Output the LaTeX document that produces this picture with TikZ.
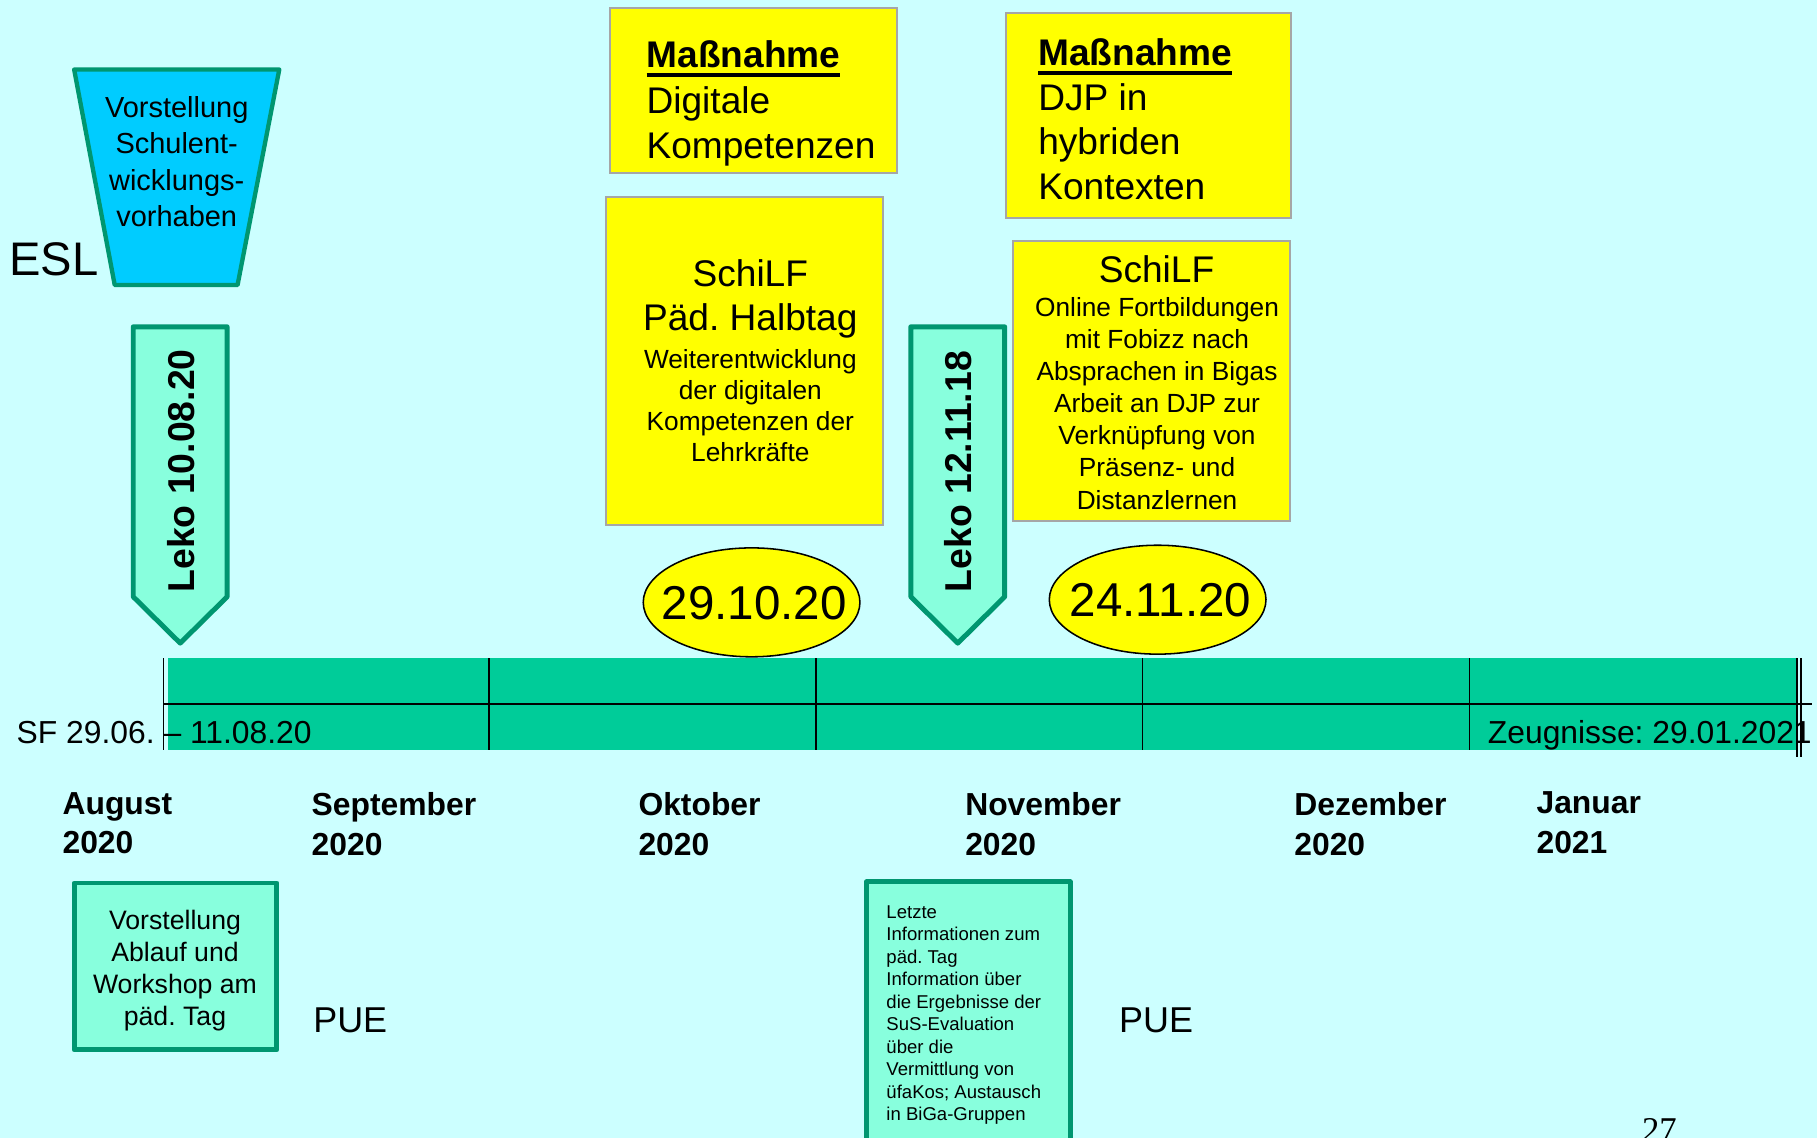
\documentclass[tikz,border=0pt]{standalone}
\usepackage{fontspec}
\setmainfont{Liberation Sans}
\newfontfamily\pagenumfont{Liberation Serif}
\frenchspacing
\definecolor{bg}{RGB}{204,255,255}
\definecolor{edgegreen}{RGB}{0,150,112}
\definecolor{mint}{RGB}{136,255,221}
\definecolor{skyblue}{RGB}{0,204,255}
\definecolor{bargreen}{RGB}{0,204,153}
\definecolor{boxgray}{RGB}{166,166,166}
\definecolor{sunyellow}{RGB}{255,255,0}
\newcommand\fsz[2]{\fontsize{#1}{#2}\selectfont}
% bold word with a heavy underline just below the baseline
\newcommand\ulword[1]{\setbox0=\hbox{#1}\rlap{\rule[-0.24em]{\wd0}{0.115em}}\box0}
\tikzset{
  plain/.style={inner sep=0pt, outer sep=0pt},
  funnel/.style={fill=skyblue, draw=edgegreen, line width=2.8pt, line join=round},
  lekoshape/.style={fill=mint, draw=edgegreen, line width=3.2pt, line join=round},
  notebox/.style={fill=sunyellow, draw=boxgray, line width=1.3pt},
  mintbox/.style={fill=mint, draw=edgegreen, line width=3.2pt, line join=round},
  datebubble/.style={fill=sunyellow, draw=black, line width=1pt},
  rule/.style={draw=black, line width=1.1pt},
  bigtext/.style={plain, font=\fsz{24pt}{29pt}},
  smalltext/.style={plain, font=\fsz{17pt}{20.6pt}, align=center},
  datetext/.style={plain, font=\fsz{30.75pt}{36pt}},
  lekotext/.style={plain, rotate=90, font=\bfseries\fsz{24.2pt}{28pt}},
  monthtext/.style={plain, anchor=north west, align=left, font=\bfseries\fsz{20.6pt}{25.5pt}},
  bartext/.style={plain, anchor=base west, font=\fsz{20.6pt}{24pt}},
  puetext/.style={plain, anchor=base west, font=\fsz{23.25pt}{28pt}},
}
\begin{document}
\begin{tikzpicture}[x=0.75pt, y=-0.75pt]
\useasboundingbox (0,0) rectangle (1568,982);
\fill[bg] (0,0) rectangle (1568,982);

% --- ESL funnel ---
\draw[funnel] (64,60) -- (241,60) -- (205,246) -- (99,246) -- cycle;
\node[plain, align=center, font=\fsz{18.75pt}{23.6pt}] (funneltext) at (152.5,139.5)
  {Vorstellung\\Schulent-\\wicklungs-\\vorhaben};
\node[plain, anchor=base west, font=\fsz{30.5pt}{36pt}] (esl) at (8,238) {ESL};

% --- Leko markers ---
\draw[lekoshape] (115,282) -- (196,282) -- (196,515) -- (155.5,555) -- (115,515) -- cycle;
\node[lekotext] (leko1) at (156,406.3) {Leko 10.08.20};
\draw[lekoshape] (786,282) -- (867,282) -- (867,515) -- (826.5,555) -- (786,515) -- cycle;
\node[lekotext] (leko2) at (827,407) {Leko 12.11.18};

% --- Maßnahme boxes ---
\draw[notebox] (526,7) rectangle (774,149);
\node[bigtext, anchor=west, align=left, font=\fsz{24pt}{29.4pt}] (massA) at (558,89.5)
  {\ulword{\bfseries Maßnahme}\\Digitale\\Kompetenzen};
\draw[notebox] (868,11) rectangle (1114,188);
\node[bigtext, anchor=west, align=left, font=\fsz{24pt}{28.75pt}] (massC) at (896,103)
  {\ulword{\bfseries Maßnahme}\\DJP in\\hybriden\\Kontexten};

% --- SchiLF boxes ---
\draw[notebox] (523,170) rectangle (762,453);
\node[bigtext, align=center, font=\fsz{24pt}{28.5pt}] (schilfB) at (647.5,258.2)
  {SchiLF\\Päd. Halbtag};
\node[smalltext, font=\fsz{17pt}{20.25pt}] (schilfBtext) at (647.5,350)
  {Weiterentwicklung\\der digitalen\\Kompetenzen der\\Lehrkräfte};
\draw[notebox] (874,208) rectangle (1113,450);
\node[bigtext, anchor=base] (schilfD) at (998,243.5) {SchiLF};
\node[smalltext, font=\fsz{17pt}{20.8pt}] (schilfDtext) at (998.5,348)
  {Online Fortbildungen\\mit Fobizz nach\\Absprachen in Bigas\\Arbeit an DJP zur\\Verknüpfung von\\Präsenz- und\\Distanzlernen};

% --- date bubbles ---
\draw[datebubble] (648.6,519.8) ellipse [x radius=93.5, y radius=47];
\node[datetext] (date1) at (650.9,520.5) {29.10.20};
\draw[datebubble] (999,517.5) ellipse [x radius=93.5, y radius=47];
\node[datetext] (date2) at (1001.5,517.8) {24.11.20};

% --- timeline bar ---
\fill[bargreen] (145,568) rectangle (1550,647);
\draw[rule] (141,568) -- (141,647);
\foreach \mx in {422,704,986,1268} \draw[rule] (\mx,568) -- (\mx,647);
\draw[rule] (1550.5,568) -- (1550.5,653);
\draw[rule] (1554,568) -- (1554,653);
\draw[rule] (141,607.5) -- (1564,607.5);
\node[bartext] (sf) at (14.4,642) {SF 29.06. – 11.08.20};
\node[bartext] (zeugnisse) at (1284,642) {Zeugnisse: 29.01.2021};

% --- months ---
\node[monthtext] (aug) at (54,684) {August\\2020};
\node[monthtext] (sep) at (269,684) {September\\2020};
\node[monthtext] (okt) at (551,684) {Oktober\\2020};
\node[monthtext] (nov) at (833,684) {November\\2020};
\node[monthtext] (dez) at (1117,684) {Dezember\\2020};
\node[monthtext] (jan) at (1326,683.3) {Januar\\2021};

% --- lower notes ---
\draw[mintbox] (64,762) rectangle (239,906);
\node[plain, align=center, font=\fsz{17.25pt}{20.75pt}] (workshop) at (151,837.5)
  {Vorstellung\\Ablauf und\\Workshop am\\päd. Tag};
\node[puetext] (pue1) at (270.4,891) {PUE};
\draw[mintbox] (747.8,761) rectangle (923.5,1010);
\node[plain, anchor=west, align=left, font=\fsz{12pt}{14.55pt}] (infos) at (765,876)
  {Letzte\\Informationen zum\\päd. Tag\\Information über\\die Ergebnisse der\\SuS-Evaluation\\über die\\Vermittlung von\\üfaKos; Austausch\\in BiGa-Gruppen};
\node[puetext] (pue2) at (965.8,891) {PUE};

% --- page number, running off the lower edge ---
\node[plain, anchor=base west, font=\pagenumfont\fsz{22.5pt}{27pt}] (pagenum) at (1417,985) {27};
\end{tikzpicture}
\end{document}
